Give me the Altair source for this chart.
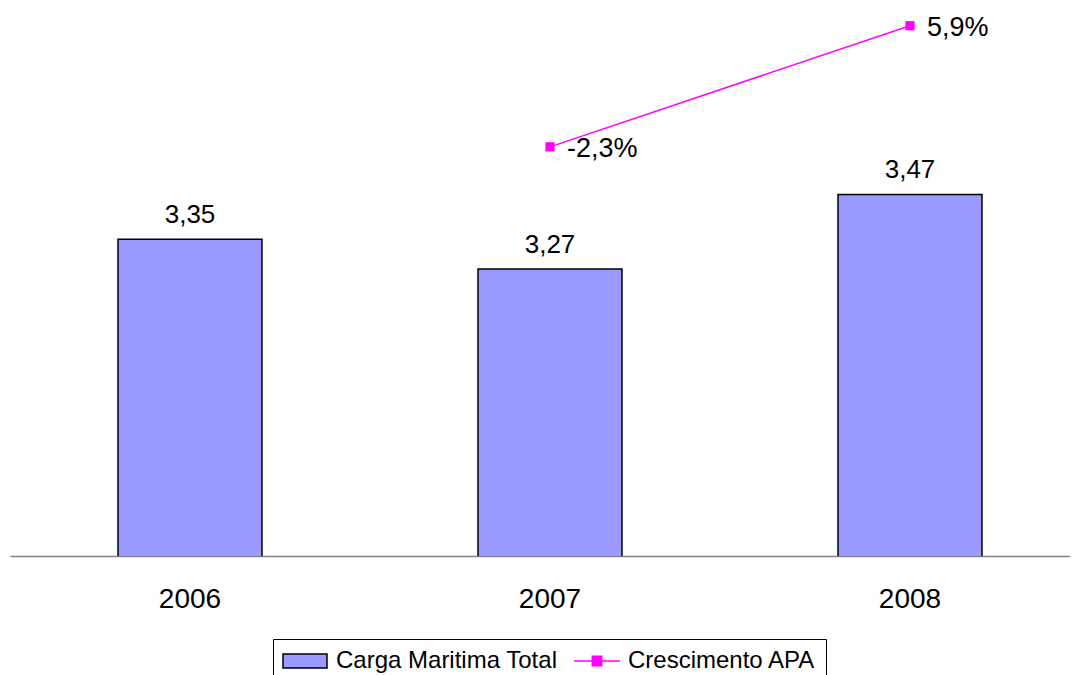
import altair as alt
import pandas as pd

# ---- data ----
years = ["2006", "2007", "2008"]
carga = [3.35, 3.27, 3.47]
carga_labels = ["3,35", "3,27", "3,47"]

growth_years = ["2007", "2008"]
growth = [-2.3, 5.9]
growth_labels = ["-2,3%", "5,9%"]

series_names = ["Carga Maritima Total", "Crescimento APA"]

bars_df = pd.DataFrame({"ano": years, "valor": carga, "rotulo": carga_labels})
line_df = pd.DataFrame({"ano": growth_years, "cresc": growth, "rotulo": growth_labels})
legend_df = pd.DataFrame({"serie": series_names})

FONT = "Liberation Sans"
BAR_COLOR = "#9999FF"
LINE_COLOR = "#FF00FF"

x_enc = alt.X(
    "ano:N",
    title=None,
    sort=years,
    scale=alt.Scale(range=[2, 1082], paddingInner=0.6, paddingOuter=0.3),
    axis=alt.Axis(
        labelAngle=0, labelFontSize=28, labelFont=FONT, labelColor="black",
        labelPadding=51, labelBaseline="alphabetic", ticks=False, tickSize=0,
        domainColor="#808080", domainWidth=1.5, grid=False,
    ),
)
y_bar = alt.Y("valor:Q", scale=alt.Scale(domain=[2.5, 3.97], nice=False, zero=False), axis=None)
y_line = alt.Y("cresc:Q", scale=alt.Scale(domain=[-30, 7.1], nice=False, zero=False), axis=None)

legend = alt.Legend(
    title=None, orient="none", legendX=265, legendY=631, direction="horizontal",
    padding=10, strokeColor="black", fillColor="white",
    symbolSize=484, symbolOffset=10, labelOffset=19, columnPadding=13,
    labelFontSize=24, labelFont=FONT, labelColor="black", labelLimit=1000,
    symbolFillColor=LINE_COLOR, symbolStrokeWidth=1.5, symbolOpacity=1,
)
RECT_PATH = "M-2,-0.636H2V0.636H-2Z"
LINE_SQ_PATH = "M-2.09,0H2.09M-0.43,-0.43H0.43V0.43H-0.43Z"

bars = alt.Chart(bars_df).mark_bar(
    fill=BAR_COLOR, stroke="black", strokeWidth=1.5, clip=True
).encode(x=x_enc, y=y_bar)
bar_text = alt.Chart(bars_df).mark_text(
    baseline="alphabetic", dy=-16, fontSize=26, font=FONT, color="black"
).encode(x=x_enc, y=y_bar, text="rotulo:N")

line = alt.Chart(line_df).mark_line(color=LINE_COLOR, strokeWidth=1.5).encode(x=x_enc, y=y_line)
markers = alt.Chart(line_df).mark_square(size=85, color=LINE_COLOR, opacity=1).encode(x=x_enc, y=y_line)
line_text = alt.Chart(line_df).mark_text(
    align="left", baseline="middle", dx=17, dy=2, fontSize=27, font=FONT, color="black"
).encode(x=x_enc, y=y_line, text="rotulo:N")

# legend carrier: no visible marks, only the shared legend of both series
legend_layer = alt.Chart(legend_df).transform_filter("false").mark_point(
    filled=True, strokeWidth=1.5, opacity=1
).encode(
    fill=alt.Fill("serie:N", scale=alt.Scale(domain=series_names, range=[BAR_COLOR, LINE_COLOR]), legend=legend),
    stroke=alt.Stroke("serie:N", scale=alt.Scale(domain=series_names, range=["black", LINE_COLOR]), legend=legend),
    shape=alt.Shape("serie:N", scale=alt.Scale(domain=series_names, range=[RECT_PATH, LINE_SQ_PATH]), legend=legend),
)

chart = (
    alt.layer(
        alt.layer(bars, bar_text),
        alt.layer(line, markers, line_text),
    )
    .resolve_scale(y="independent")
)
chart = (
    alt.layer(chart, legend_layer)
    .properties(
        width=1062, height=548,
        padding={"left": 0, "top": 0, "right": 0, "bottom": 125},
        autosize=alt.AutoSizeParams(type="none"),
        background="white",
    )
    .configure_view(stroke=None)
)

chart.save("out.html", embed_options={"renderer": "svg", "actions": False})
